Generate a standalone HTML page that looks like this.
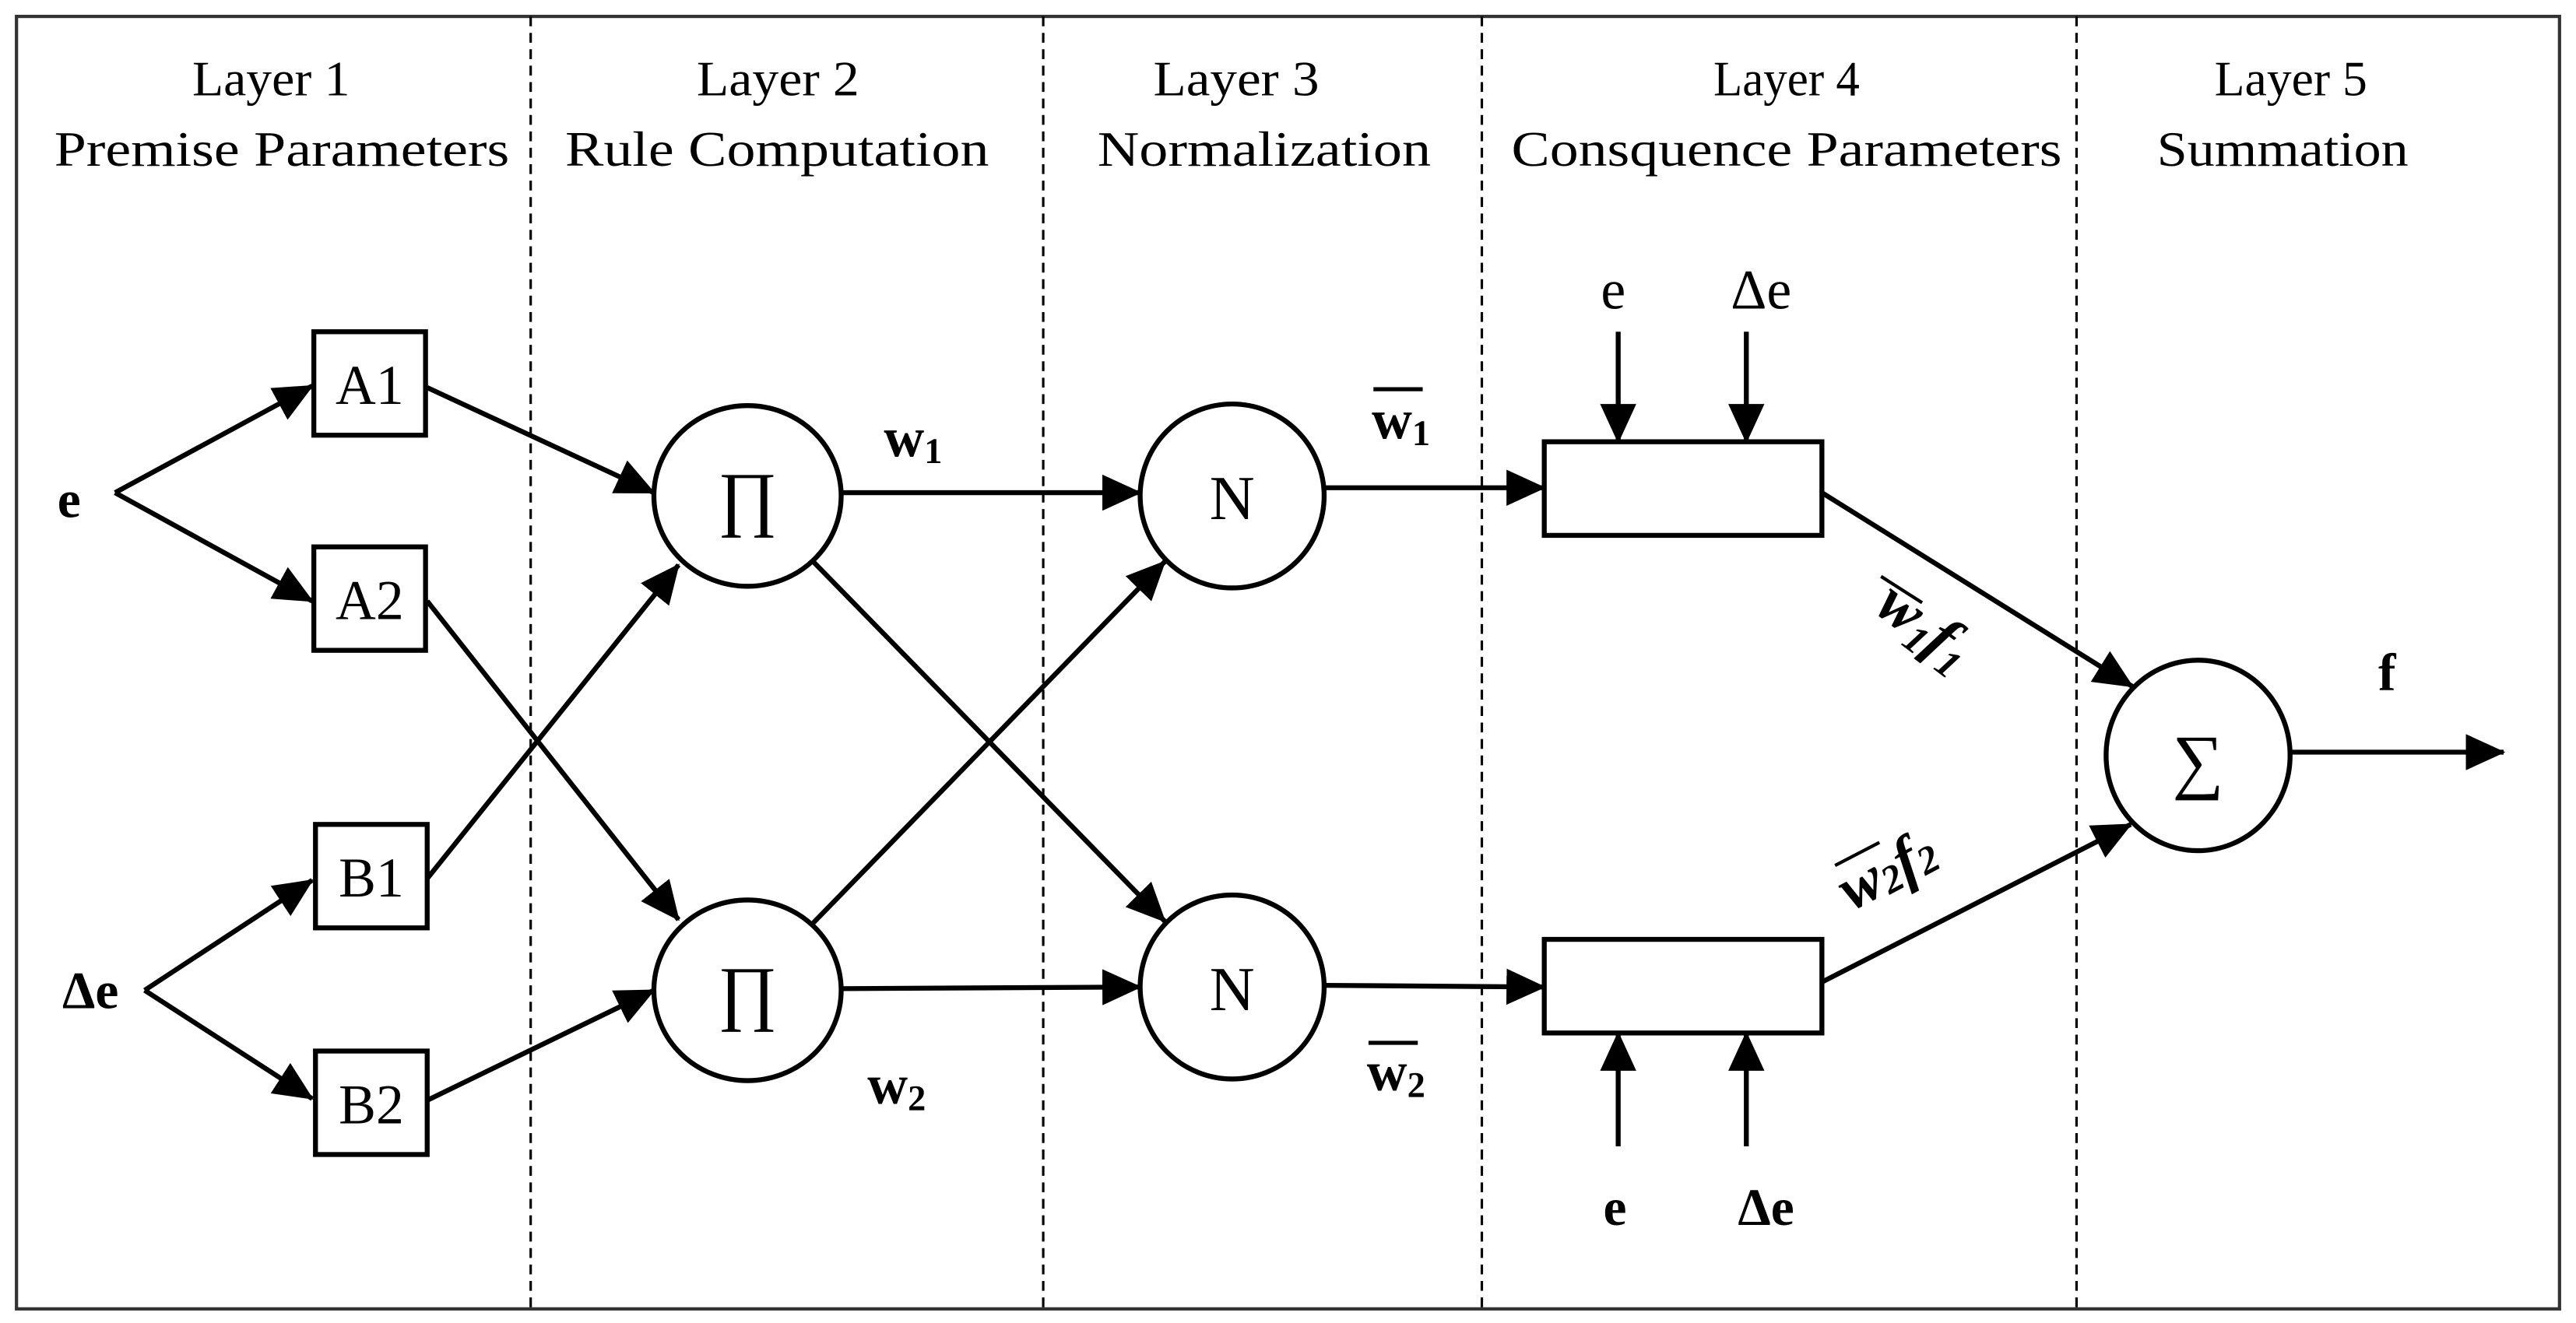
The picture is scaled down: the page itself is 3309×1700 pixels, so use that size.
<!DOCTYPE html>
<html><head><meta charset="utf-8"><style>
html,body{margin:0;padding:0;background:#fff;}
svg{display:block;}
text{font-family:"Liberation Serif",serif;fill:#000;}
</style></head><body>
<svg width="3309" height="1700" viewBox="0 0 1568 805.6" xmlns="http://www.w3.org/2000/svg">
<defs>
<marker id="a" viewBox="0 0 24 22" refX="23" refY="11" markerWidth="24" markerHeight="22" markerUnits="userSpaceOnUse" orient="auto">
<path d="M0,0 L24,11 L0,22 Z" fill="#000"/>
</marker>
</defs>
<rect x="10" y="10" width="1548" height="787" fill="#fff" stroke="#333" stroke-width="2"/>
<g stroke="#000" stroke-width="1.5" stroke-dasharray="6,4">
<line x1="323" y1="10" x2="323" y2="797"/>
<line x1="635" y1="10" x2="635" y2="797"/>
<line x1="902" y1="10" x2="902" y2="797"/>
<line x1="1264" y1="10" x2="1264" y2="797"/>
</g>
<g font-size="30">
<text x="117" y="58" textLength="96" lengthAdjust="spacingAndGlyphs">Layer 1</text>
<text x="33" y="101" textLength="277" lengthAdjust="spacingAndGlyphs">Premise Parameters</text>
<text x="424" y="58" textLength="99" lengthAdjust="spacingAndGlyphs">Layer 2</text>
<text x="344" y="101" textLength="258" lengthAdjust="spacingAndGlyphs">Rule Computation</text>
<text x="702" y="58" textLength="101" lengthAdjust="spacingAndGlyphs">Layer 3</text>
<text x="668" y="101" textLength="203" lengthAdjust="spacingAndGlyphs">Normalization</text>
<text x="1043" y="58" textLength="89" lengthAdjust="spacingAndGlyphs">Layer 4</text>
<text x="920" y="101" textLength="335" lengthAdjust="spacingAndGlyphs">Consquence Parameters</text>
<text x="1348" y="58" textLength="93" lengthAdjust="spacingAndGlyphs">Layer 5</text>
<text x="1313" y="101" textLength="153" lengthAdjust="spacingAndGlyphs">Summation</text>
</g>
<g fill="#fff" stroke="#000" stroke-width="3">
<rect x="191" y="202" width="68" height="63"/>
<rect x="191" y="333" width="68" height="63"/>
<rect x="192" y="502" width="68" height="63"/>
<rect x="192" y="640" width="68" height="63"/>
<ellipse cx="455" cy="302" rx="57" ry="55"/>
<ellipse cx="455" cy="603" rx="57" ry="55"/>
<circle cx="750" cy="302" r="56"/>
<circle cx="750" cy="601" r="56"/>
<rect x="940" y="269" width="169" height="57"/>
<rect x="940" y="572" width="169" height="57"/>
<ellipse cx="1338" cy="460" rx="56" ry="58"/>
</g>
<g font-size="34" text-anchor="middle">
<text x="225" y="246">A1</text><text x="225" y="377">A2</text>
<text x="226" y="546">B1</text><text x="226" y="684">B2</text>
<text x="982" y="188">e</text><text x="1072" y="188">Δe</text>
</g>
<g font-size="44" text-anchor="middle">
<text x="455" y="318">∏</text><text x="455" y="619">∏</text>
<text x="1338" y="478">∑</text>
</g>
<g font-size="38" text-anchor="middle">
<text x="750" y="316">N</text><text x="750" y="615">N</text>
</g>
<g font-size="32" font-weight="bold" text-anchor="middle">
<text x="42" y="315">e</text><text x="55" y="614">Δe</text>
<text x="983" y="746">e</text><text x="1075" y="746">Δe</text>
<text x="1453" y="420">f</text>
</g>
<g font-size="34" font-weight="bold">
<text x="538" y="278">w<tspan font-size="22" dy="4">1</tspan></text>
<text x="528" y="672">w<tspan font-size="22" dy="4">2</tspan></text>
<text x="835" y="267">w<tspan font-size="22" dy="4">1</tspan></text>
<text x="832" y="664">w<tspan font-size="22" dy="4">2</tspan></text>
</g>
<g stroke="#000" stroke-width="2.5">
<line x1="836" y1="237" x2="866" y2="237"/>
<line x1="833" y1="635" x2="863" y2="635"/>
</g>
<g font-size="38" font-weight="bold" font-style="italic">
<text transform="translate(1140,372) rotate(37)">w<tspan font-size="24" dy="6">1</tspan><tspan dy="-6">f</tspan><tspan font-size="24" dy="6">1</tspan></text>
<text transform="translate(1127,555) rotate(-28)">w<tspan font-size="24" dy="2">2</tspan><tspan dy="-2">f</tspan><tspan font-size="24" dy="2">2</tspan></text>
</g>
<g stroke="#000" stroke-width="2">
<line x1="1145" y1="351" x2="1170" y2="367"/>
<line x1="1117" y1="527" x2="1144" y2="513"/>
</g>
<g stroke="#000" stroke-width="3" fill="none" marker-end="url(#a)">
<line x1="70" y1="300" x2="190" y2="235"/>
<line x1="70" y1="300" x2="190" y2="366"/>
<line x1="88" y1="603" x2="190" y2="536"/>
<line x1="88" y1="603" x2="190" y2="669"/>
<line x1="260" y1="236" x2="398" y2="300"/>
<line x1="260" y1="535" x2="413" y2="344"/>
<line x1="260" y1="366" x2="413" y2="560"/>
<line x1="260" y1="670" x2="398" y2="603"/>
<line x1="512" y1="300" x2="694" y2="300"/>
<line x1="495" y1="342" x2="709" y2="561"/>
<line x1="495" y1="562" x2="709" y2="342"/>
<line x1="512" y1="602" x2="694" y2="601"/>
<line x1="806" y1="297" x2="940" y2="297"/>
<line x1="806" y1="600" x2="940" y2="601"/>
<line x1="985" y1="202" x2="985" y2="269"/>
<line x1="1063" y1="202" x2="1063" y2="269"/>
<line x1="985" y1="698" x2="985" y2="629"/>
<line x1="1063" y1="698" x2="1063" y2="629"/>
<line x1="1109" y1="300" x2="1298" y2="418"/>
<line x1="1109" y1="598" x2="1297" y2="502"/>
<line x1="1395" y1="458" x2="1524" y2="458"/>
</g>
</svg>
</body></html>
